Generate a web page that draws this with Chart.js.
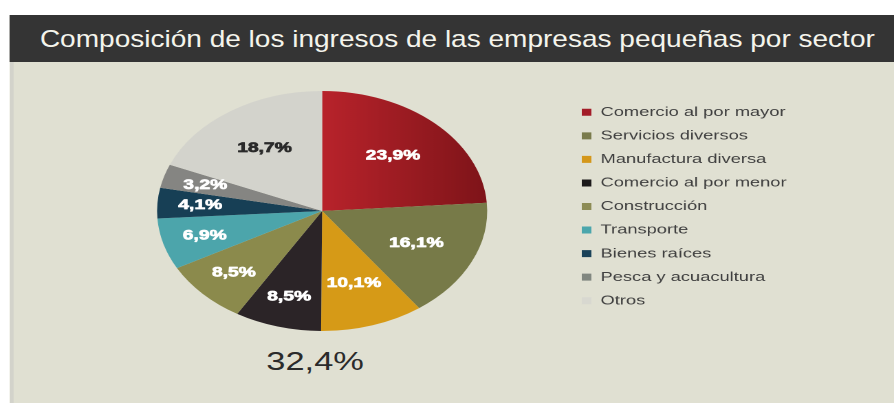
<!DOCTYPE html>
<html>
<head>
<meta charset="utf-8">
<script src="https://cdn.jsdelivr.net/npm/chart.js@4.4.1/dist/chart.umd.min.js"></script>
<style>
  html, body { margin:0; padding:0; background:#ffffff; width:894px; height:403px; overflow:hidden; }
  #stage { position:absolute; left:0; top:0; width:650px; height:403px; transform-origin:0 0; transform:scaleX(1.37538); }
  #panel { position:absolute; left:7.3px; top:15px; width:642.7px; height:388px; background:#e0e0d2; box-shadow: inset 3px 0 0 #d3d3cb; }
  #bar { position:absolute; left:7.3px; top:15px; width:642.7px; height:47px; background:#343434; }
  #title { position:absolute; left:29px; top:15px; height:47px; line-height:47px; color:#f4f4ec; font-family:"Liberation Sans Narrow","Liberation Sans",Arial,sans-serif; font-size:24px; white-space:nowrap; transform-origin:0 0; }
  #big { position:absolute; left:129.1px; width:200px; top:346.3px; line-height:30px; text-align:center; font-family:"Liberation Sans",Arial,sans-serif; font-size:25px; color:#2b2b2b; }
  #chart { position:absolute; left:0; top:0; }
</style>
</head>
<body>
<div id="stage">
  <div id="panel"></div>
  <div id="bar"></div>
  <div id="title">Composición de los ingresos de las empresas pequeñas por sector</div>
  <div id="big">32,4%</div>
  <canvas id="chart" width="650" height="403"></canvas>
</div>
<script>
// ---- data ----
const categories = [
  "Comercio al por mayor",
  "Servicios diversos",
  "Manufactura diversa",
  "Comercio al por menor",
  "Construcción",
  "Transporte",
  "Bienes raíces",
  "Pesca y acuacultura",
  "Otros"
];
const shares = [23.9, 16.1, 10.1, 8.5, 8.5, 6.9, 4.1, 3.2, 18.7];
const sliceColors = ["#a81e26", "#777a48", "#d69a17", "#2b2427", "#8b8a4c", "#4ca5ab", "#173f55", "#858582", "#d3d3cc"];
const legendColors = ["#a31c28", "#7a7b4c", "#d4971a", "#1c1a1b", "#8d8c55", "#4ba6ac", "#1a4259", "#818780", "#d8d8d0"];
const labelColors = ["#ffffff", "#ffffff", "#ffffff", "#ffffff", "#ffffff", "#ffffff", "#ffffff", "#ffffff", "#2a2a2a"];
const highlightValue = "32,4%";

document.getElementById('big').textContent = highlightValue;

// compress title horizontally to the reference width (narrow look)
(function(){
  const t = document.getElementById('title');
  const target = 607;
  const w = t.scrollWidth;
  if (w > 0) t.style.transform = 'scaleX(' + (target / w) + ')';
})();

const LEG_FONT = 13.3;
const LEG_PAD = 10.25;
const LEG_BOX = 7;
const LEG_LEFT = 412.75;

// measure widest legend label for layout
const mctx = document.createElement('canvas').getContext('2d');
mctx.font = LEG_FONT + 'px "Liberation Sans", Arial, sans-serif';
let maxW = 0;
categories.forEach(c => { maxW = Math.max(maxW, mctx.measureText(c).width); });
const padRight = Math.max(0, 650 - (LEG_LEFT + LEG_PAD + LEG_BOX + LEG_FONT / 2 + maxW + 10));
const padLeft = 2 * 234.2 - LEG_LEFT;

function fmt(v) { return v.toFixed(1).replace('.', ',') + '%'; }

const sliceLabels = {
  id: 'sliceLabels',
  afterDatasetsDraw(chart) {
    const ctx = chart.ctx;
    const meta = chart.getDatasetMeta(0);
    ctx.save();
    ctx.font = 'bold 14px "Liberation Sans", Arial, sans-serif';
    ctx.textAlign = 'center';
    ctx.textBaseline = 'middle';
    ctx.lineJoin = 'round';
    meta.data.forEach((arc, i) => {
      const p = arc.getProps(['x', 'y', 'startAngle', 'endAngle', 'outerRadius'], true);
      const mid = (p.startAngle + p.endAngle) / 2;
      const frac = shares[i] >= 10 ? 0.63 : 0.74;
      const r = p.outerRadius * frac;
      const tx = p.x + Math.cos(mid) * r, ty = p.y + Math.sin(mid) * r;
      ctx.fillStyle = labelColors[i];
      ctx.strokeStyle = labelColors[i];
      ctx.lineWidth = 0.7;
      ctx.strokeText(fmt(shares[i]), tx, ty);
      ctx.fillText(fmt(shares[i]), tx, ty);
    });
    ctx.restore();
  }
};

function bg(context) {
  const i = context.dataIndex;
  if (i === 0) {
    const chart = context.chart;
    const ca = chart.chartArea;
    if (!ca) return sliceColors[0];
    const cx = (ca.left + ca.right) / 2;
    const g = chart.ctx.createLinearGradient(cx, 0, cx + 120, 0);
    g.addColorStop(0, '#b8232b');
    g.addColorStop(1, '#7e1419');
    return g;
  }
  return sliceColors[i];
}

new Chart(document.getElementById('chart'), {
  type: 'pie',
  data: {
    labels: categories,
    datasets: [{
      data: shares,
      backgroundColor: bg,
      borderWidth: 0,
      hoverBorderWidth: 0,
      offset: 0,
      hoverOffset: 0,
      clip: false
    }]
  },
  options: {
    responsive: false,
    devicePixelRatio: 2,
    animation: false,
    events: [],
    layout: { padding: { top: 91, bottom: 72, left: padLeft, right: padRight } },
    plugins: {
      tooltip: { enabled: false },
      legend: {
        position: 'right',
        align: 'start',
        title: { display: true, text: '', font: { size: 1, lineHeight: 1 }, padding: { top: 3.4, bottom: 0 } },
        labels: {
          boxWidth: LEG_BOX,
          boxHeight: LEG_BOX,
          padding: LEG_PAD,
          color: '#404040',
          font: { size: LEG_FONT, family: '"Liberation Sans", Arial, sans-serif' },
          generateLabels(chart) {
            const items = Chart.overrides.pie.plugins.legend.labels.generateLabels(chart);
            items.forEach((it, i) => { it.fillStyle = legendColors[i]; it.strokeStyle = legendColors[i]; it.lineWidth = 0; });
            return items;
          }
        }
      }
    }
  },
  plugins: [sliceLabels]
});
</script>
</body>
</html>
